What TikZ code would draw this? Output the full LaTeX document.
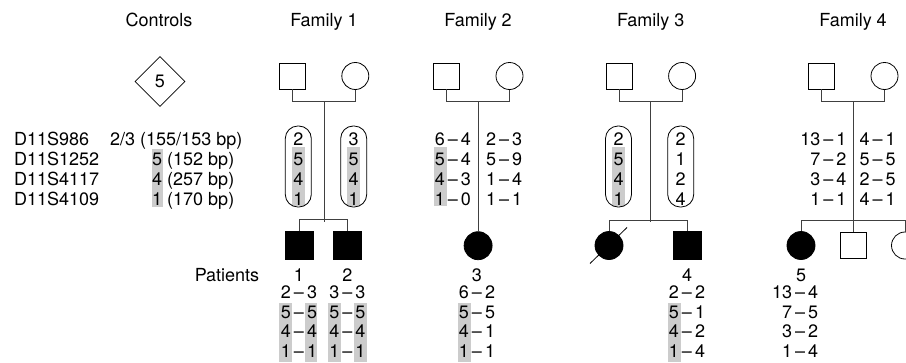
\documentclass[tikz,border=0pt]{standalone}
\usepackage{fontspec}
\setmainfont{TeX Gyre Heros}
\usepackage{tikz}
\usetikzlibrary{ calc, positioning, shapes.geometric }
\definecolor{allelegray}{gray}{0.8}
\newcommand{\hpair}[2]{#1\,--\,#2} % one pair of alleles
\tikzset{
every node/.style={inner sep=1pt},
male/.style={draw, rectangle, minimum size=26pt, inner sep=0pt, line width=0.8pt}, % square for a man
female/.style={draw, circle, minimum size=27pt, inner sep=0pt, line width=0.8pt}, % circle for a woman
control/.style={draw, diamond, minimum size=50pt, inner sep=0pt, line width=0.8pt},
affected/.style={fill=black, minimum size=28pt},
capsule/.style={draw, rounded corners=12.5pt, minimum width=26pt, minimum height=81pt, line width=0.8pt},
line/.style={line width=0.8pt, black!75},
}

\begin{document}
\begin{tikzpicture}[x=1pt, y=-1pt, font=\fontsize{18}{20}\selectfont]
  \useasboundingbox (0,0) rectangle (906,362);
  \clip (0,0) rectangle (906,362);

  % shaded alleles first, text goes on top
  \fill[allelegray] (151.7,149.3) rectangle (163.3,206.7);
  \foreach \a/\b in {291.7/305, 347.3/360, 434.3/446.7, 612.3/625}
    \fill[allelegray] (\a,147.3) rectangle (\b,205.7);
  \foreach \a/\b in {279.3/291.7, 305/317.3, 328.3/340.7, 354/366.7, 458.3/471, 668.3/680.7}
    \fill[allelegray] (\a,303.3) rectangle (\b,362);

  % controls
  \node[anchor=base] (tc) at (159,26.7) {Controls};
  \node[control] (c0) at (160,81.5) {5};
  \foreach \t [count=\i] in {D11S986,D11S1252,D11S4117,D11S4109}
    \node[anchor=base west] at (13,{125+20*\i}) {\t};
  \node[anchor=base west] at (109,145) {2/3 (155/153 bp)};
  \foreach \t [count=\i] in {5 (152 bp),4 (257 bp),1 (170 bp)}
    \node[anchor=base west] at (151,{145+20*\i}) {\t};
  \node[anchor=base] at (227,281) {Patients};

  % family 1
  \node[male] (f1) at (292.5,76) {};
  \node[female, right=35.5pt of f1] (m1) {};
  \draw[line] (f1.south) -- ++(0,12) -| (m1.south);
  \coordinate (u1) at ($(f1.south)!.5!(m1.south)+(0,12)$);
  \node[anchor=base] at (u1 |- tc.base) {Family 1};
  \node[capsule] (h11) at (298.3,166.5) {};
  \node[capsule] (h12) at (353.7,166.5) {};
  \foreach \t [count=\i] in {2,5,4,1}
    \node[anchor=base] at (298.3,{125+20*\i}) {\t};
  \foreach \t [count=\i] in {3,5,4,1}
    \node[anchor=base] at (353.7,{125+20*\i}) {\t};
  \node[male, affected] (p1) at (299,245) {};
  \node[male, affected] (p2) at (347.3,245) {};
  \draw[line] (u1) -- ++(0,120);
  \draw[line] (p1.north) -- ++(0,-11) -| (p2.north);
  \node[anchor=base] at (299,281) {1};
  \node[anchor=base] at (347.3,281) {2};
  \foreach \a/\b [count=\i] in {2/3,5/5,4/4,1/1}
    \node[anchor=base] at (299,{279+19.5*\i}) {\hpair{\a}{\b}};
  \foreach \a/\b [count=\i] in {3/3,5/5,4/4,1/1}
    \node[anchor=base] at (347.3,{279+19.5*\i}) {\hpair{\a}{\b}};

  % family 2
  \node[male] (f2) at (446.7,76) {};
  \node[female, right=35.5pt of f2] (m2) {};
  \draw[line] (f2.south) -- ++(0,12) -| (m2.south);
  \coordinate (u2) at ($(f2.south)!.5!(m2.south)+(0,12)$);
  \node[anchor=base] at (u2 |- tc.base) {Family 2};
  \foreach \a/\b [count=\i] in {6/4,5/4,4/3,1/0}
    \node[anchor=base east] at (472,{125+20*\i}) {\hpair{\a}{\b}};
  \foreach \a/\b [count=\i] in {2/3,5/9,1/4,1/1}
    \node[anchor=base west] at (485,{125+20*\i}) {\hpair{\a}{\b}};
  \node[female, affected] (p3) at (u2 |- 0,245.7) {};
  \draw[line] (u2) -- (p3.north);
  \node[anchor=base] at (477,281) {3};
  \foreach \a/\b [count=\i] in {6/2,5/5,4/1,1/1}
    \node[anchor=base] at (477,{279+19.5*\i}) {\hpair{\a}{\b}};

  % family 3
  \node[male] (f3) at (619.3,76) {};
  \node[female, right=35.5pt of f3] (m3) {};
  \draw[line] (f3.south) -- ++(0,12) -| (m3.south);
  \coordinate (u3) at ($(f3.south)!.5!(m3.south)+(0,12)$);
  \node[anchor=base] at (u3 |- tc.base) {Family 3};
  \node[capsule] (h31) at (618.5,166.5) {};
  \node[capsule] (h32) at (680.7,166.5) {};
  \foreach \t [count=\i] in {2,5,4,1}
    \node[anchor=base] at (618.5,{125+20*\i}) {\t};
  \foreach \t [count=\i] in {2,1,2,4}
    \node[anchor=base] at (680.7,{125+20*\i}) {\t};
  \node[female, affected] (d3) at (609,245.5) {};
  \draw[line width=0.8pt] ($(d3)+(-19,18)$) -- ($(d3)+(18,-18)$); % deceased
  \node[male, affected] (p4) at (687.3,245) {};
  \draw[line] (u3) -- ++(0,120);
  \draw[line] (d3.north) -- ++(0,-10.5) -| (p4.north);
  \node[anchor=base] at (687,281) {4};
  \foreach \a/\b [count=\i] in {2/2,5/1,4/2,1/4}
    \node[anchor=base] at (687,{279+19.5*\i}) {\hpair{\a}{\b}};

  % family 4
  \node[male] (f4) at (821.7,76) {};
  \node[female, right=35.5pt of f4] (m4) {};
  \draw[line] (f4.south) -- ++(0,12) -| (m4.south);
  \coordinate (u4) at ($(f4.south)!.5!(m4.south)+(0,12)$);
  \node[anchor=base] at (u4 |- tc.base) {Family 4};
  \foreach \a/\b [count=\i] in {13/1,7/2,3/4,1/1}
    \node[anchor=base east] at (847.5,{125+20*\i}) {\hpair{\a}{\b}};
  \foreach \a/\b [count=\i] in {4/1,5/5,2/5,4/1}
    \node[anchor=base west] at (858.5,{125+20*\i}) {\hpair{\a}{\b}};
  \node[female, affected] (p5) at (801,245.5) {};
  \node[male] (b4) at (u4 |- 0,245) {};
  \node[female] (g4) at (905,245.5) {};
  \draw[line] (u4) -- (b4.north);
  \draw[line] (p5.north) -- ++(0,-10.5) -| (g4.north);
  \node[anchor=base] at (801,281) {5};
  \foreach \a/\b [count=\i] in {13/4,7/5,3/2,1/4}
    \node[anchor=base east] at (819.3,{279+19.5*\i}) {\hpair{\a}{\b}};
\end{tikzpicture}
\end{document}
